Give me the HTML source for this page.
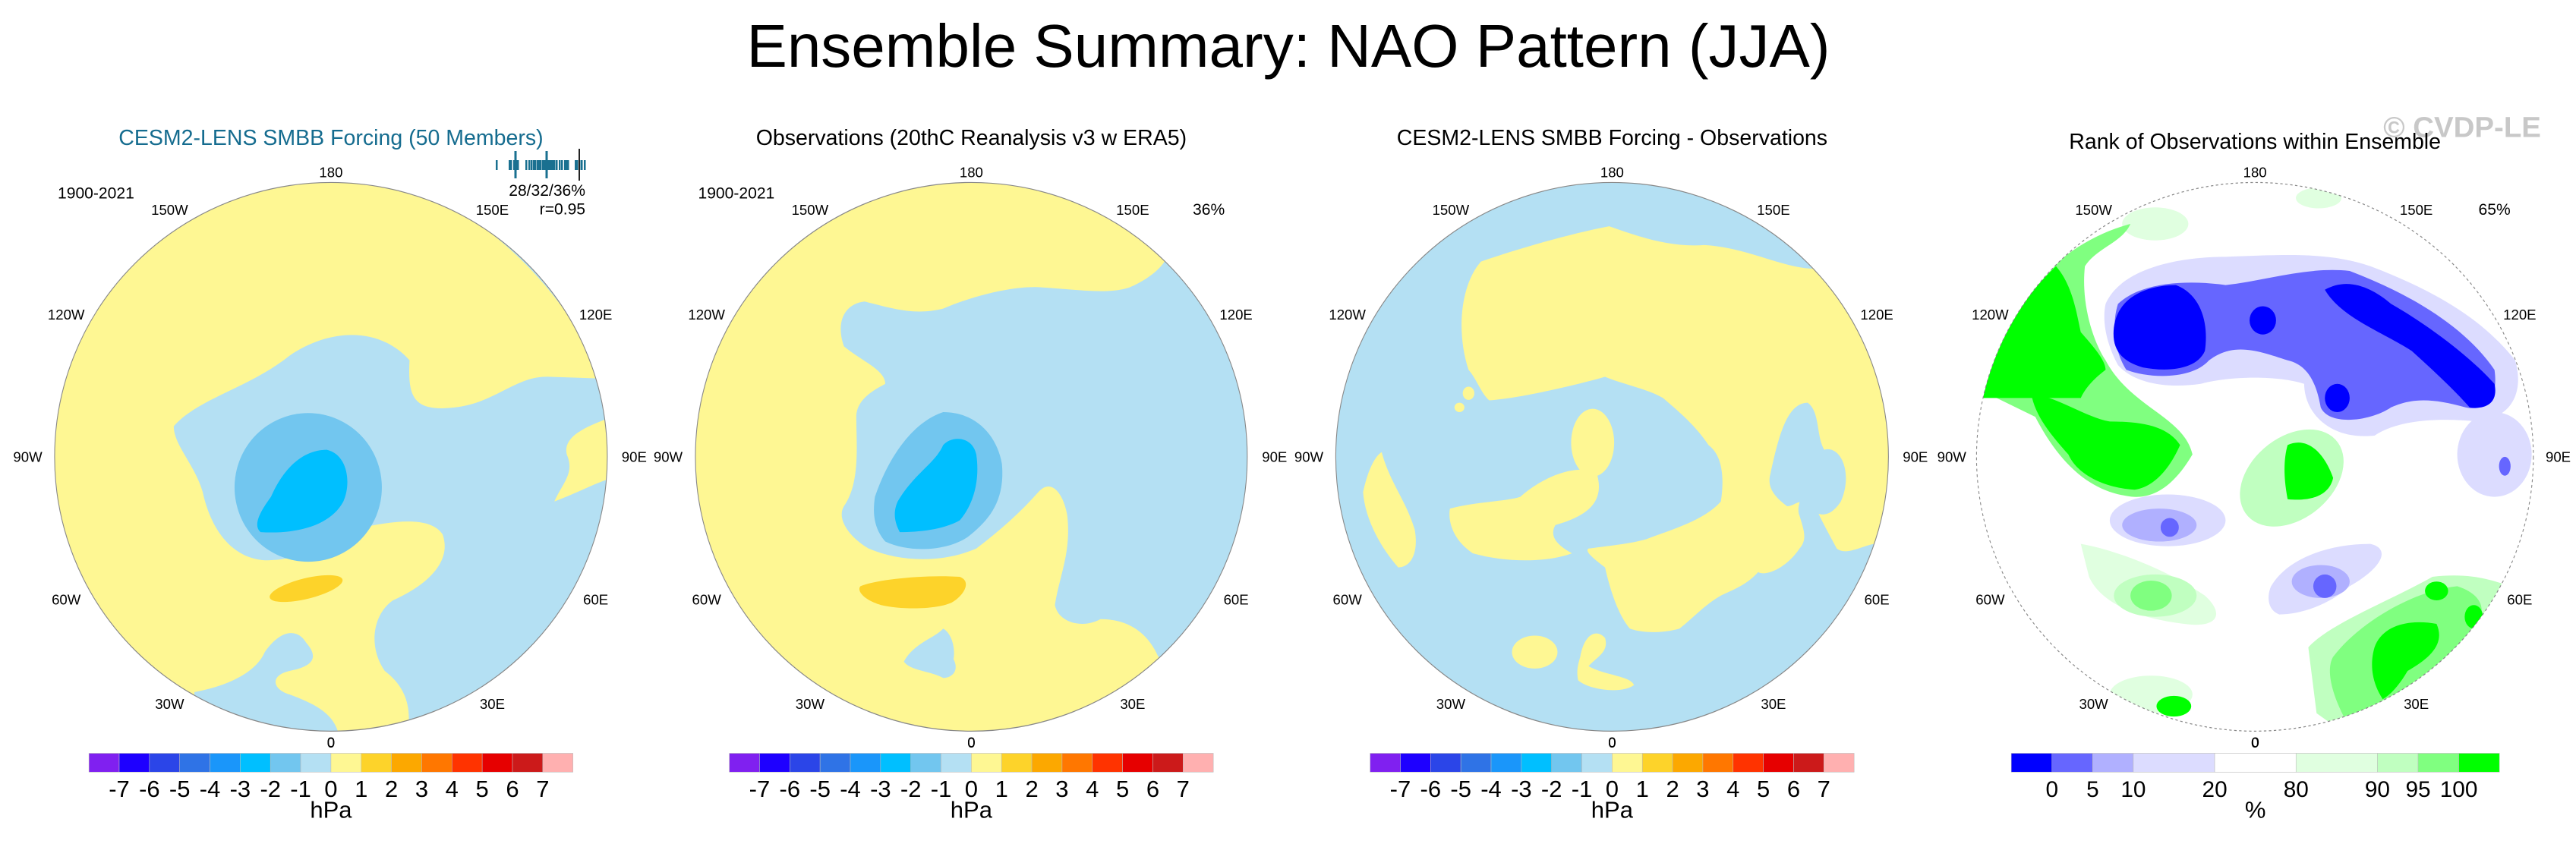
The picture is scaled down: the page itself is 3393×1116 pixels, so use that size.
<!DOCTYPE html>
<html><head><meta charset="utf-8"><style>
html,body{margin:0;padding:0;background:#fff;}
svg{display:block;font-family:"Liberation Sans",sans-serif;}
</style></head><body>
<svg id="fig" width="3393" height="1116" viewBox="0 0 3393 1116" xmlns="http://www.w3.org/2000/svg">
<defs>
<clipPath id="c1"><ellipse cx="800" cy="745" rx="668" ry="583"/></clipPath>
<clipPath id="c2"><ellipse cx="788" cy="745" rx="667" ry="583"/></clipPath>
<clipPath id="c3"><ellipse cx="777" cy="745" rx="668" ry="583"/></clipPath>
<clipPath id="c4"><ellipse cx="771" cy="745" rx="673" ry="583"/></clipPath>
</defs>
<text x="1697" y="88" font-size="80" text-anchor="middle" fill="#000">Ensemble Summary: NAO Pattern (JJA)</text>

<!-- Panel 1 -->
<g id="p1" class="panel" transform="translate(0,140) scale(0.5449,0.62)">
<text x="800" y="82" font-size="46" text-anchor="middle" fill="#156c8f">CESM2-LENS SMBB Forcing (50 Members)</text>
<g clip-path="url(#c1)">
<rect x="0" y="0" width="1600" height="1400" fill="#fef793"/>
<path fill="#b4e0f3" d="M 420,680 C 480,620 600,600 700,530 C 800,470 920,470 990,540 C 985,620 1000,650 1100,640 C 1200,630 1250,570 1330,575 L 1500,580 L 1500,1400 L 960,1400 C 1010,1300 990,1240 930,1200 C 890,1150 900,1080 950,1050 C 1050,1010 1090,960 1070,910 C 1040,870 950,880 850,900 C 780,940 720,965 640,965 C 560,960 510,900 490,820 C 470,760 420,720 420,680 Z"/>
<path fill="#b4e0f3" d="M 1060,200 C 1200,260 1350,380 1450,560 L 1500,560 L 1500,150 Z"/>
<path fill="#fef793" d="M 1480,660 C 1420,680 1360,700 1370,740 C 1390,780 1360,800 1340,840 C 1400,820 1440,800 1480,790 Z"/>
<path fill="#b4e0f3" d="M 470,1245 C 560,1230 620,1200 640,1160 C 680,1110 720,1110 740,1140 C 770,1170 760,1190 700,1200 C 650,1210 660,1240 700,1250 C 760,1270 810,1290 820,1340 L 470,1340 Z"/>
<ellipse cx="745" cy="810" rx="178" ry="158" fill="#72c6ef"/>
<path fill="#00bfff" d="M 655,830 C 690,760 740,730 790,730 C 840,740 850,800 830,840 C 800,890 720,910 630,905 C 610,890 630,860 655,830 Z"/>
<ellipse cx="740" cy="1025" rx="90" ry="22" transform="rotate(-12 740 1025)" fill="#fdd32a"/>
</g>
<ellipse cx="800" cy="745" rx="668" ry="583" fill="none" stroke="#888" stroke-width="2"/>
<text x="232" y="196" font-size="34" text-anchor="middle">1900-2021</text>
<text x="1415" y="190" font-size="34" text-anchor="end">28/32/36%</text>
<text x="1415" y="230" font-size="34" text-anchor="end">r=0.95</text>
<g class="lonlab" data-cx="800"></g>
<g class="cbar" data-x0="215" data-x1="1385" data-kind="hpa"></g>
</g>

<!-- Panel 2 -->
<g id="p2" class="panel" transform="translate(850,140) scale(0.5449,0.62)">
<text x="788" y="82" font-size="46" text-anchor="middle" fill="#000">Observations (20thC Reanalysis v3 w ERA5)</text>
<g clip-path="url(#c2)">
<rect x="0" y="0" width="1600" height="1400" fill="#fef793"/>
<path fill="#b4e0f3" d="M 1255,330 L 1500,330 L 1500,1170 L 1240,1170 C 1220,1130 1180,1090 1100,1090 C 1060,1110 1000,1100 990,1060 C 1000,1000 1030,950 1020,870 C 1010,820 980,790 950,820 C 910,860 860,900 800,940 C 720,970 620,970 540,940 C 500,920 460,880 480,850 C 520,800 510,720 510,660 C 510,620 560,600 580,590 C 580,560 520,540 480,510 C 460,460 480,420 530,415 C 600,430 650,445 720,430 C 800,400 900,380 960,385 C 1050,390 1120,400 1170,385 C 1210,370 1240,350 1255,330 Z"/>
<path fill="#b4e0f3" d="M 625,1180 C 650,1140 700,1130 720,1110 C 740,1120 750,1150 745,1175 C 760,1200 740,1215 720,1215 C 690,1200 640,1200 625,1180 Z"/>
<path fill="#72c6ef" d="M 555,830 C 590,740 650,670 720,650 C 800,650 850,700 862,760 C 870,840 830,880 780,915 C 730,945 640,950 580,925 C 550,895 550,860 555,830 Z"/>
<path fill="#00bfff" d="M 610,840 C 650,780 700,760 720,720 C 740,700 790,700 800,740 C 810,800 790,850 760,880 C 720,900 660,905 615,905 C 600,880 600,860 610,840 Z"/>
<path fill="#fdd32a" d="M 520,1020 C 560,1005 680,995 760,1000 C 790,1010 770,1040 740,1055 C 700,1070 620,1070 570,1060 C 530,1050 510,1030 520,1020 Z"/>
</g>
<ellipse cx="788" cy="745" rx="667" ry="583" fill="none" stroke="#888" stroke-width="2"/>
<text x="220" y="196" font-size="34" text-anchor="middle">1900-2021</text>
<text x="1362" y="231" font-size="34" text-anchor="middle">36%</text>
<g class="lonlab" data-cx="788"></g>
<g class="cbar" data-x0="203" data-x1="1373" data-kind="hpa"></g>
</g>

<!-- Panel 3 -->
<g id="p3" class="panel" transform="translate(1700,140) scale(0.5449,0.62)">
<text x="777" y="82" font-size="46" text-anchor="middle" fill="#000">CESM2-LENS SMBB Forcing - Observations</text>
<g clip-path="url(#c3)">
<rect x="0" y="0" width="1600" height="1400" fill="#b4e0f3"/>
<path fill="#fef793" d="M 430,560 C 400,480 410,380 460,330 C 560,300 680,270 770,255 C 850,280 920,300 1000,295 C 1100,300 1180,340 1255,345 L 1500,345 L 1500,930 L 1440,930 C 1400,920 1350,960 1320,940 C 1290,890 1270,860 1260,830 C 1270,800 1280,790 1260,780 C 1240,820 1220,850 1230,870 C 1240,900 1250,920 1230,940 C 1200,980 1150,1000 1130,990 C 1100,1020 1060,1030 1040,1040 C 1000,1060 970,1090 940,1110 C 900,1120 850,1120 820,1110 C 790,1080 770,1020 760,980 C 730,960 710,945 720,940 C 760,935 820,930 860,920 C 920,900 1000,880 1040,840 C 1050,780 1040,740 1010,720 C 980,680 940,650 900,620 C 860,600 800,590 760,575 C 700,590 560,620 480,625 C 460,610 450,580 430,560 Z"/>
<path fill="#b4e0f3" d="M 1160,780 C 1180,700 1200,630 1250,630 C 1280,650 1270,700 1290,730 C 1330,720 1360,780 1330,840 C 1300,880 1270,870 1250,850 C 1230,830 1220,850 1200,850 C 1170,830 1150,810 1160,780 Z"/>
<ellipse cx="730" cy="715" rx="52" ry="72" fill="#fef793"/>
<path fill="#fef793" d="M 555,830 C 620,780 700,760 740,780 C 760,840 720,870 640,890 C 620,920 660,940 680,950 C 620,970 520,970 440,950 C 390,920 380,880 385,855 C 450,840 520,840 555,830 Z"/>
<path fill="#fef793" d="M 175,820 C 190,760 210,740 220,735 C 240,800 280,840 300,900 C 310,950 290,980 260,980 C 220,940 180,880 175,820 Z"/>
<ellipse cx="590" cy="1160" rx="55" ry="35" fill="#fef793"/>
<path fill="#fef793" d="M 700,1170 C 710,1120 740,1110 760,1130 C 770,1160 740,1170 720,1190 C 760,1210 820,1210 830,1230 C 800,1250 720,1240 695,1220 C 690,1200 695,1185 700,1170 Z"/>
<ellipse cx="430" cy="610" rx="14" ry="14" fill="#fef793"/>
<ellipse cx="408" cy="640" rx="12" ry="10" fill="#fef793"/>
</g>
<ellipse cx="777" cy="745" rx="668" ry="583" fill="none" stroke="#888" stroke-width="2"/>
<g class="lonlab" data-cx="777"></g>
<g class="cbar" data-x0="192" data-x1="1362" data-kind="hpa"></g>
</g>

<!-- Panel 4 -->
<g id="p4" class="panel" transform="translate(2550,140) scale(0.5449,0.62)">
<text x="1272" y="65" font-size="62" font-weight="bold" text-anchor="middle" fill="#c8c8c8">© CVDP-LE</text>
<text x="771" y="90" font-size="46" text-anchor="middle" fill="#000">Rank of Observations within Ensemble</text>
<g clip-path="url(#c4)">
<rect x="0" y="0" width="1600" height="1400" fill="#fff"/>
<ellipse cx="530" cy="250" rx="80" ry="35" fill="#e0ffe0"/>
<ellipse cx="925" cy="195" rx="55" ry="22" fill="#e0ffe0"/>
<path fill="#80ff80" d="M 100,600 C 140,470 260,300 470,250 C 450,290 390,300 360,340 C 350,420 380,500 410,540 C 470,640 600,660 620,740 C 560,830 500,835 460,828 C 360,815 290,745 240,660 Z"/>
<path fill="#00ff00" d="M 110,600 C 150,480 220,400 290,340 C 330,380 340,440 350,480 C 380,510 410,540 410,560 C 380,580 360,600 350,620 L 110,620 Z"/>
<path fill="#00ff00" d="M 230,610 C 300,620 360,660 420,670 C 500,670 560,680 590,720 C 560,780 520,810 480,815 C 400,810 340,780 320,740 C 280,700 240,660 230,610 Z"/>
<path fill="#dcdcff" d="M 410,420 C 450,340 600,320 700,320 C 850,315 950,310 1050,340 C 1200,390 1320,450 1400,540 C 1420,600 1400,660 1310,670 C 1200,660 1110,670 1060,700 C 950,710 890,650 890,590 C 820,570 700,575 640,590 C 560,600 480,590 440,550 C 415,510 400,460 410,420 Z"/>
<path fill="#6666ff" d="M 440,420 C 500,370 620,370 700,380 C 800,370 900,340 1000,350 C 1150,400 1280,470 1350,560 C 1360,620 1330,650 1280,640 C 1200,620 1150,620 1100,640 C 1050,670 950,680 930,640 C 920,590 900,550 850,540 C 780,520 720,500 660,540 C 620,580 520,580 460,560 C 430,520 425,460 440,420 Z"/>
<path fill="#0000ff" d="M 430,470 C 440,400 520,380 580,380 C 640,400 660,460 650,520 C 630,560 560,565 500,555 C 440,540 425,510 430,470 Z"/>
<path fill="#0000ff" d="M 940,390 C 1000,360 1060,390 1100,420 C 1200,470 1300,540 1350,590 C 1360,630 1330,645 1290,640 C 1250,600 1200,560 1150,520 C 1080,480 980,450 940,390 Z"/>
<ellipse cx="970" cy="620" rx="30" ry="30" fill="#0000ff"/>
<ellipse cx="790" cy="455" rx="32" ry="30" fill="#0000ff"/>
<ellipse cx="1350" cy="740" rx="90" ry="90" fill="#dcdcff"/>
<ellipse cx="1375" cy="765" rx="14" ry="20" fill="#6666ff"/>
<ellipse cx="560" cy="880" rx="140" ry="55" fill="#dcdcff"/>
<ellipse cx="540" cy="890" rx="90" ry="35" fill="#b0b0ff"/>
<ellipse cx="565" cy="895" rx="22" ry="20" fill="#6666ff"/>
<ellipse cx="860" cy="790" rx="135" ry="90" transform="rotate(-30 860 790)" fill="#c0ffc0"/>
<path fill="#00ff00" d="M 850,720 C 900,700 940,740 960,790 C 950,830 900,840 850,835 C 840,790 840,750 850,720 Z"/>
<path fill="#dcdcff" d="M 810,1020 C 850,960 950,930 1050,930 C 1100,940 1080,980 1000,1020 C 950,1060 880,1080 830,1080 C 800,1070 800,1040 810,1020 Z"/>
<ellipse cx="930" cy="1010" rx="70" ry="35" fill="#b0b0ff"/>
<ellipse cx="940" cy="1020" rx="28" ry="25" fill="#6666ff"/>
<path fill="#e0ffe0" d="M 350,930 C 420,940 550,980 650,1040 C 700,1080 680,1110 600,1100 C 500,1090 400,1060 370,1000 Z"/>
<ellipse cx="530" cy="1040" rx="100" ry="45" fill="#c0ffc0"/>
<ellipse cx="520" cy="1040" rx="50" ry="32" fill="#80ff80"/>
<path fill="#c0ffc0" d="M 900,1150 C 950,1100 1100,1050 1200,1000 C 1300,990 1350,1010 1390,1020 L 1410,1100 L 1000,1340 L 920,1290 Z"/>
<path fill="#80ff80" d="M 960,1170 C 1020,1100 1150,1030 1260,1020 C 1330,1040 1330,1080 1300,1110 C 1230,1180 1150,1240 1080,1290 L 1000,1320 C 960,1260 940,1200 960,1170 Z"/>
<path fill="#00ff00" d="M 1060,1150 C 1080,1100 1150,1090 1210,1100 C 1230,1140 1200,1170 1140,1200 C 1120,1230 1100,1250 1080,1260 C 1050,1220 1050,1180 1060,1150 Z"/>
<ellipse cx="1210" cy="1030" rx="28" ry="20" fill="#00ff00"/>
<ellipse cx="1300" cy="1085" rx="22" ry="25" fill="#00ff00"/>
<ellipse cx="520" cy="1250" rx="100" ry="40" fill="#e0ffe0"/>
<ellipse cx="575" cy="1275" rx="42" ry="22" fill="#00ff00"/>
</g>
<ellipse cx="771" cy="745" rx="673" ry="583" fill="none" stroke="#888" stroke-width="2" stroke-dasharray="6,6"/>
<text x="1350" y="231" font-size="34" text-anchor="middle">65%</text>
<g class="lonlab" data-cx="771"></g>
<g class="cbar" data-x0="182" data-x1="1362" data-kind="rank"></g>
</g>

<g id="memberticks"></g>
</svg>
<script>
var NS = "http://www.w3.org/2000/svg";
// Colorbar data
var hpaColors = ["#8020f0","#1e00ff","#2b45e8","#2f73e6","#1a96fa","#00bfff","#72c6ef","#b4e0f3","#fef793","#fdd32a","#fca800","#ff7700","#ff3300","#e60000","#cc1a1a","#ffb0b0"];
var hpaLabels = ["-7","-6","-5","-4","-3","-2","-1","0","1","2","3","4","5","6","7"];
var rankColors = ["#0000ff","#6666ff","#b0b0ff","#dcdcff","#ffffff","#e0ffe0","#c0ffc0","#80ff80","#00ff00"];
var rankWidths = [1,1,1,2,2,2,1,1,1];
var rankLabels = ["0","5","10","20","80","90","95","100"];
var lonLabels = ["180","150W","150E","120W","120E","90W","90E","60W","60E","30W","30E","0"];
var lonDx = [0,-390,390,-640,640,-733,733,-640,640,-390,390,0];
var lonDy = [-605,-525,-525,-303,-303,0,0,303,303,525,525,607];
// Ensemble member ticks (original px)
var memberTicks = [654,671,673,677,680,682,693,697,700,703,705,708,710,712,715,717,722,724,726,728,730,733,737,740,744,746,748,758,760,763,766,770];
var tallTicks = [679,720];
var obsTick = 763;

function mk(tag, attrs, parent){var e=document.createElementNS(NS,tag);for(var k in attrs)e.setAttribute(k,attrs[k]);parent.appendChild(e);return e;}

document.querySelectorAll('.lonlab').forEach(function(g,pi){
  var cx = +g.getAttribute('data-cx');
  for (var i=0;i<lonLabels.length;i++){
    var t = mk('text',{x:cx+lonDx[i], y:745+lonDy[i]+11, 'font-size':30, 'text-anchor':'middle'}, g);
    
    
    t.textContent = lonLabels[i];
  }
});

document.querySelectorAll('.cbar').forEach(function(g){
  var x0=+g.getAttribute('data-x0'), x1=+g.getAttribute('data-x1'), kind=g.getAttribute('data-kind');
  
  var cols = kind==='hpa'?hpaColors:rankColors;
  var widths = kind==='hpa'?hpaColors.map(function(){return 1;}):rankWidths;
  var labs = kind==='hpa'?hpaLabels:rankLabels;
  var tot = widths.reduce(function(a,b){return a+b;},0);
  var u = (x1-x0)/tot, x=x0, bounds=[];
  for (var i=0;i<cols.length;i++){
    var r = mk('rect',{x:x,y:1375,width:u*widths[i],height:40,fill:cols[i],stroke:'#bbb','stroke-width':1},g);
    
    
    x += u*widths[i];
    if(i<cols.length-1) bounds.push(x);
  }
  for (var j=0;j<labs.length;j++){
    var t = mk('text',{x:bounds[j],y:1468,'font-size':kind==='hpa'?50:48,'text-anchor':'middle'},g);
    
    
    t.textContent = labs[j];
  }
  var mid=(x0+x1)/2;
  var z = mk('text',{x:mid,y:1362,'font-size':30,'text-anchor':'middle'},g);
  
  
  z.textContent='0';
  var un = mk('text',{x:mid,y:1512,'font-size':50,'text-anchor':'middle'},g);
  
  
  un.textContent = kind==='hpa'?'hPa':'%';
});

var mt = document.getElementById('memberticks');
memberTicks.forEach(function(v){
  var r = mk('rect',{x:v-1,y:211,width:2.5,height:13,fill:'#1a7090'},mt);
  
  
});
tallTicks.forEach(function(v){
  var r = mk('rect',{x:v-1.5,y:199,width:3,height:36,fill:'#1a7090'},mt);
  
  
});
var ob = mk('rect',{x:obsTick-1,y:196,width:2,height:42,fill:'#222'},mt);



// make text uniformly scaled inside the non-uniformly scaled panels
var SX = 0.62/0.5449;
document.querySelectorAll('.panel text').forEach(function(t){
  var x = +t.getAttribute('x'), y = +t.getAttribute('y');
  t.setAttribute('x', 0);
  t.setAttribute('y', 0);
  t.setAttribute('transform', 'translate(' + x + ',' + y + ') scale(' + SX + ',1)');
});
</script>
</body></html>
